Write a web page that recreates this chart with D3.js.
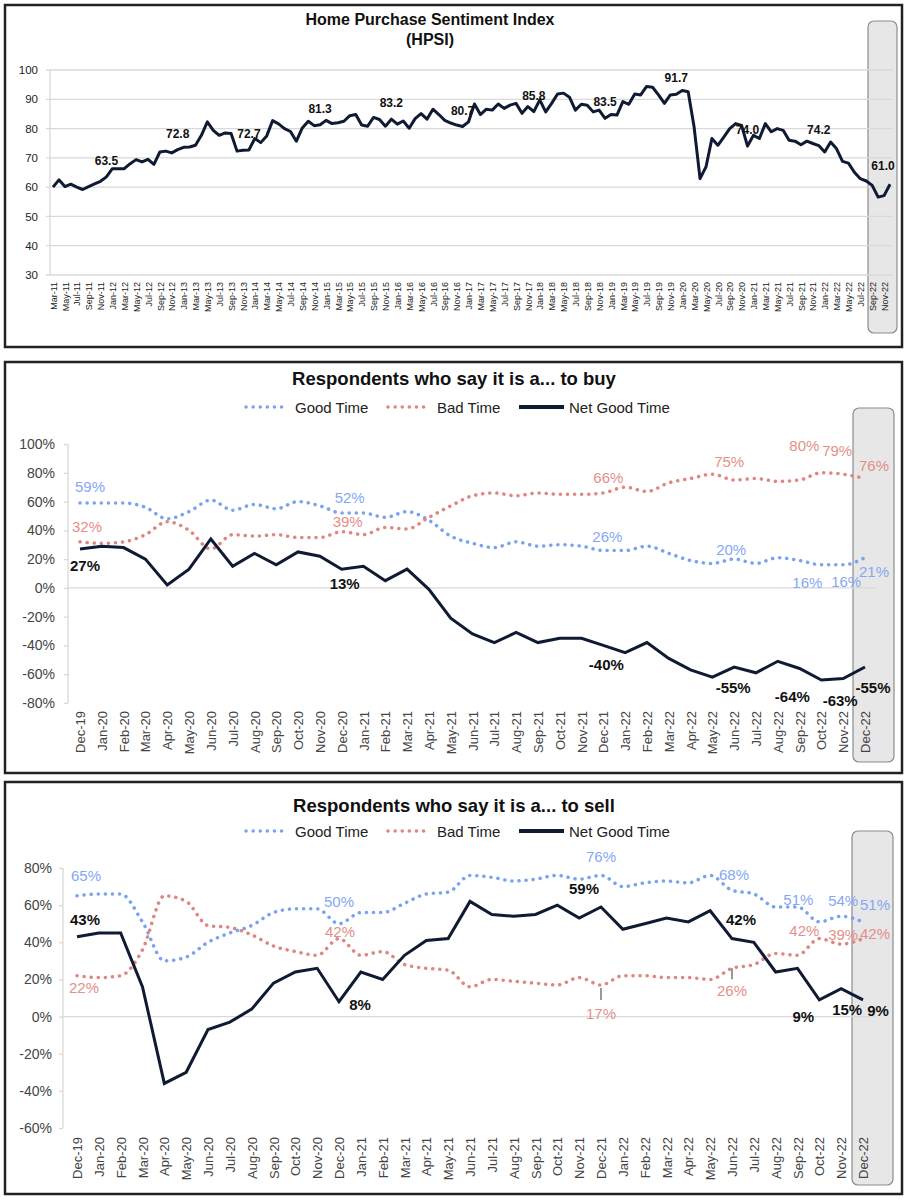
<!DOCTYPE html>
<html>
<head>
<meta charset="utf-8">
<script src="https://cdn.jsdelivr.net/npm/d3@7"></script>
<style>
  body { margin: 0; background: #fff; }
  svg { font-family: "Liberation Sans", Arial, sans-serif; }
</style>
</head>
<body>
<svg id="chart" width="909" height="1200"></svg>
<script>
// ---- data ----
// HPSI, monthly from Mar-11 to Dec-22
var hpsiStart = "2011-03-01";
var hpsiValues = [
  60.0, 62.5, 60.2, 61.0, 60.0, 59.2, 60.2, 61.1, 62.0, 63.5,
  66.3, 66.3, 66.3, 68.0, 69.4, 68.6, 69.5, 67.8, 72.0, 72.3,
  71.7, 72.8, 73.6, 73.7, 74.3, 77.7, 82.3, 79.4, 77.7, 78.5,
  78.3, 72.3, 72.6, 72.7, 76.6, 75.2, 77.5, 82.7, 81.6, 80.0,
  79.0, 75.7, 80.2, 82.5, 81.0, 81.3, 82.8, 81.7, 82.0, 82.5,
  84.4, 84.8, 81.2, 80.8, 83.8, 83.1, 80.8, 83.2, 81.5, 82.6,
  80.1, 83.4, 85.1, 83.2, 86.6, 84.8, 82.8, 81.9, 81.2, 80.7,
  82.3, 88.4, 84.8, 86.6, 86.3, 88.4, 86.9, 88.0, 88.6, 85.2,
  87.5, 85.8, 89.8, 85.7, 88.6, 91.8, 92.1, 90.7, 86.3, 88.3,
  88.0, 85.7, 86.3, 83.5, 84.8, 84.6, 89.2, 88.3, 91.8, 91.5,
  94.4, 94.1, 91.5, 88.6, 91.5, 91.7, 93.0, 92.6, 80.5, 62.9,
  66.9, 76.6, 74.3, 77.1, 80.0, 81.7, 81.1, 74.0, 77.7, 76.6,
  81.7, 78.9, 80.0, 79.4, 76.0, 75.7, 74.5, 75.7, 74.9, 74.2,
  72.0, 75.4, 73.1, 68.8, 68.2, 65.1, 62.9, 62.1, 60.6, 56.6,
  57.1, 61.0
];
var hpsiLabelMonths = ["Dec-11", "Dec-12", "Dec-13", "Dec-14", "Dec-15", "Dec-16",
  "Dec-17", "Dec-18", "Dec-19", "Dec-20", "Dec-21", "Dec-22"];
var hpsiTicks = [100, 90, 80, 70, 60, 50, 40, 30];

var surveyMonths = [
  "Dec-19", "Jan-20", "Feb-20", "Mar-20", "Apr-20", "May-20", "Jun-20", "Jul-20",
  "Aug-20", "Sep-20", "Oct-20", "Nov-20", "Dec-20", "Jan-21", "Feb-21", "Mar-21",
  "Apr-21", "May-21", "Jun-21", "Jul-21", "Aug-21", "Sep-21", "Oct-21", "Nov-21",
  "Dec-21", "Jan-22", "Feb-22", "Mar-22", "Apr-22", "May-22", "Jun-22", "Jul-22",
  "Aug-22", "Sep-22", "Oct-22", "Nov-22", "Dec-22"
];

var buyGood = [59, 59, 59, 56, 48, 53, 61, 54, 58, 55, 60, 57, 52, 52, 49, 53, 47, 36, 31,
  28, 32, 29, 30, 29, 26, 26, 29, 24, 19, 17, 20, 17, 21, 19, 16, 16, 21];
var buyBad = [32, 31, 32, 37, 46, 40, 27, 37, 36, 37, 35, 35, 39, 37, 42, 41, 49, 57, 64,
  66, 64, 66, 65, 65, 66, 70, 67, 73, 76, 79, 75, 76, 74, 75, 80, 79, 76];
var buyNet = [27, 29, 28, 20, 2, 13, 34, 15, 24, 16, 25, 22, 13, 15, 5, 13, -1, -21, -32,
  -38, -31, -38, -35, -35, -40, -45, -38, -49, -57, -62, -55, -59, -51, -56, -64, -63, -55];
var buyTicks = [100, 80, 60, 40, 20, 0, -20, -40, -60, -80];

var sellGood = [65, 66, 66, 51, 30, 32, 40, 45, 49, 56, 58, 58, 50, 56, 56, 61, 66, 67, 76,
  75, 73, 74, 76, 74, 76, 70, 72, 73, 72, 76, 68, 66, 59, 59, 51, 54, 51];
var sellBad = [22, 21, 22, 36, 65, 62, 49, 48, 44, 38, 35, 33, 42, 33, 35, 28, 26, 25, 16,
  20, 19, 18, 17, 21, 17, 22, 22, 21, 21, 20, 26, 28, 34, 33, 42, 39, 42];
var sellNet = [43, 45, 45, 16, -36, -30, -7, -3, 4, 18, 24, 26, 8, 24, 20, 33, 41, 42, 62,
  55, 54, 55, 60, 53, 59, 47, 50, 53, 51, 57, 42, 40, 24, 26, 9, 15, 9];
var sellTicks = [80, 60, 40, 20, 0, -20, -40, -60];

var seriesNames = ["Good Time", "Bad Time", "Net Good Time"];

// ---- styles ----
var NAVY = "#0f1a33", BLUE = "#78a2f2", RED = "#e0857f";
var BLUE_TXT = "#85a8f4", RED_TXT = "#e38f8a";
var GRID = "#d9d9d9";

var svg = d3.select("#chart");
var fmtMonth = d3.timeFormat("%b-%y");

function panelBox(x0, y0, x1, y1) {
  svg.append("rect")
    .attr("x", x0).attr("y", y0)
    .attr("width", x1 - x0).attr("height", y1 - y0)
    .attr("fill", "#fff")
    .attr("stroke", "#222").attr("stroke-width", 2.5);
}

function highlight(x0, y0, x1, y1) {
  svg.append("rect")
    .attr("x", x0).attr("y", y0)
    .attr("width", x1 - x0).attr("height", y1 - y0)
    .attr("rx", 6)
    .attr("fill", "#e7e7e7")
    .attr("stroke", "#8c8c8c").attr("stroke-width", 1.2);
}

// ================= Panel 1: HPSI =================
panelBox(5, 5, 902, 347);
highlight(868, 21, 897, 333);

var start = new Date(hpsiStart + "T00:00:00");
var hpsiMonths = hpsiValues.map(function (d, i) { return fmtMonth(d3.timeMonth.offset(start, i)); });

var x1 = d3.scalePoint().domain(hpsiMonths).range([53, 890]);
var y1 = d3.scaleLinear().domain([30, 100]).range([275, 70]);

var g1 = svg.append("g");

g1.selectAll("line.grid")
  .data(hpsiTicks)
  .enter().append("line")
  .attr("x1", 46).attr("x2", 893)
  .attr("y1", function (d) { return y1(d); })
  .attr("y2", function (d) { return y1(d); })
  .attr("stroke", GRID).attr("stroke-width", 1.3);

g1.append("line")
  .attr("x1", 50).attr("x2", 50)
  .attr("y1", y1(100)).attr("y2", y1(30))
  .attr("stroke", GRID).attr("stroke-width", 1.3);

var yAxis1 = g1.append("g")
  .attr("transform", "translate(40,0)")
  .call(d3.axisLeft(y1).tickValues(hpsiTicks).tickSize(0).tickPadding(2));
yAxis1.select(".domain").remove();
yAxis1.selectAll("text")
  .attr("font-size", 11.5).attr("fill", "#222")
  .attr("font-family", "Liberation Sans, Arial, sans-serif");

var xAxis1 = g1.append("g")
  .attr("transform", "translate(0," + y1(30) + ")")
  .call(d3.axisBottom(x1)
    .tickValues(hpsiMonths.filter(function (d, i) { return i % 2 === 0; }))
    .tickSize(0));
xAxis1.select(".domain").remove();
xAxis1.selectAll("text")
  .attr("font-size", 9).attr("fill", "#222")
  .attr("font-family", "Liberation Sans, Arial, sans-serif")
  .attr("text-anchor", "end")
  .attr("dy", "0.35em")
  .attr("transform", "translate(0,7) rotate(-90)")
  .attr("x", 0).attr("y", 0);

var line1 = d3.line()
  .x(function (d, i) { return x1(hpsiMonths[i]); })
  .y(function (d) { return y1(d); });

g1.append("path")
  .datum(hpsiValues)
  .attr("d", line1)
  .attr("fill", "none")
  .attr("stroke", NAVY).attr("stroke-width", 3)
  .attr("stroke-linejoin", "round");

g1.selectAll("text.hlabel")
  .data(hpsiLabelMonths)
  .enter().append("text")
  .attr("x", function (m) { return x1(m) + (m === "Dec-22" ? -7 : 0); })
  .attr("y", function (m) { return y1(hpsiValues[hpsiMonths.indexOf(m)]) - (m === "Dec-22" ? 18 : 16); })
  .attr("text-anchor", "middle")
  .attr("dominant-baseline", "central")
  .attr("font-size", 12).attr("font-weight", "bold").attr("fill", "#111")
  .text(function (m) { return hpsiValues[hpsiMonths.indexOf(m)].toFixed(1); });

svg.append("text")
  .attr("x", 430).attr("y", 25)
  .attr("text-anchor", "middle")
  .attr("font-size", 16).attr("font-weight", "bold").attr("fill", "#111")
  .text("Home Purchase Sentiment Index");
svg.append("text")
  .attr("x", 430).attr("y", 45)
  .attr("text-anchor", "middle")
  .attr("font-size", 16).attr("font-weight", "bold").attr("fill", "#111")
  .text("(HPSI)");

// ================= Panels 2 & 3 =================
function surveyPanel(cfg) {
  panelBox(5, cfg.top, 902, cfg.bottom);
  highlight(cfg.hl[0], cfg.hl[1], cfg.hl[2], cfg.hl[3]);

  var x = d3.scalePoint().domain(surveyMonths).range(cfg.xRange);
  var y = d3.scaleLinear().domain(cfg.yDomain).range(cfg.yRange);
  var g = svg.append("g");

  // title
  g.append("text")
    .attr("x", 454).attr("y", cfg.titleY)
    .attr("text-anchor", "middle")
    .attr("font-size", 18.5).attr("font-weight", "bold").attr("fill", "#111")
    .text(cfg.title);

  // legend
  var ly = cfg.legendY;
  var leg = [
    { x0: 246, x1: 287, tx: 295, color: BLUE, dotted: true },
    { x0: 388, x1: 429, tx: 437, color: RED, dotted: true },
    { x0: 519, x1: 564, tx: 569, color: NAVY, dotted: false }
  ];
  leg.forEach(function (l, i) {
    var ln = g.append("line")
      .attr("x1", l.x0).attr("x2", l.x1)
      .attr("y1", ly).attr("y2", ly)
      .attr("stroke", l.color)
      .attr("stroke-linecap", "round");
    if (l.dotted) ln.attr("stroke-width", 3.5).attr("stroke-dasharray", "0.1 7");
    else ln.attr("stroke-width", 4).attr("stroke-linecap", "butt");
    g.append("text")
      .attr("x", l.tx).attr("y", ly)
      .attr("dominant-baseline", "central")
      .attr("font-size", 15).attr("fill", "#222")
      .text(seriesNames[i]);
  });

  // axes
  g.append("line")
    .attr("x1", cfg.axisX).attr("x2", cfg.zeroEnd)
    .attr("y1", y(0)).attr("y2", y(0))
    .attr("stroke", GRID).attr("stroke-width", 1.3);
  g.append("line")
    .attr("x1", cfg.axisX).attr("x2", cfg.axisX)
    .attr("y1", y(cfg.yDomain[1])).attr("y2", y(cfg.yDomain[0]))
    .attr("stroke", GRID).attr("stroke-width", 1.3);

  var ya = g.append("g")
    .attr("transform", "translate(" + cfg.axisX + ",0)")
    .call(d3.axisLeft(y).tickValues(cfg.ticks).tickSize(4).tickPadding(cfg.axisX - cfg.labelRight - 4)
      .tickFormat(function (d) { return d + "%"; }));
  ya.select(".domain").remove();
  ya.selectAll("line").attr("stroke", GRID).attr("stroke-width", 1.3);
  ya.selectAll("text")
    .attr("font-size", 14).attr("fill", "#444")
    .attr("font-family", "Liberation Sans, Arial, sans-serif");

  var xa = g.append("g")
    .attr("transform", "translate(0," + y(cfg.yDomain[0]) + ")")
    .call(d3.axisBottom(x).tickSize(0));
  xa.select(".domain").remove();
  xa.selectAll("text")
    .attr("font-size", 13).attr("fill", "#444")
    .attr("font-family", "Liberation Sans, Arial, sans-serif")
    .attr("text-anchor", "end")
    .attr("dy", "0.35em")
    .attr("transform", "translate(0," + cfg.tickGap + ") rotate(-90)")
    .attr("x", 0).attr("y", 0);

  // series
  var series = { good: cfg.good, bad: cfg.bad, net: cfg.net };
  var smooth = d3.line()
    .x(function (d, i) { return x(surveyMonths[i]); })
    .y(function (d) { return y(d); })
    .curve(d3.curveMonotoneX);
  var straight = d3.line()
    .x(function (d, i) { return x(surveyMonths[i]); })
    .y(function (d) { return y(d); });

  g.append("path").datum(cfg.good).attr("d", smooth)
    .attr("fill", "none").attr("stroke", BLUE).attr("stroke-width", 3.5)
    .attr("stroke-linecap", "round").attr("stroke-dasharray", "0.1 7");
  g.append("path").datum(cfg.bad).attr("d", smooth)
    .attr("fill", "none").attr("stroke", RED).attr("stroke-width", 3.5)
    .attr("stroke-linecap", "round").attr("stroke-dasharray", "0.1 7");
  g.append("path").datum(cfg.net).attr("d", straight)
    .attr("fill", "none").attr("stroke", NAVY).attr("stroke-width", 3)
    .attr("stroke-linejoin", "miter");

  // leader lines
  (cfg.leaders || []).forEach(function (l) {
    var v = series[l.s][surveyMonths.indexOf(l.m)];
    g.append("line")
      .attr("x1", x(l.m)).attr("x2", x(l.m))
      .attr("y1", y(v) + l.a).attr("y2", y(v) + l.b)
      .attr("stroke", "#555").attr("stroke-width", 1.2);
  });

  // data labels
  var colors = { good: BLUE_TXT, bad: RED_TXT, net: "#111" };
  cfg.labels.forEach(function (l) {
    var v = series[l.s][surveyMonths.indexOf(l.m)];
    g.append("text")
      .attr("x", x(l.m) + l.dx)
      .attr("y", y(v) + l.dy)
      .attr("text-anchor", "middle")
      .attr("dominant-baseline", "central")
      .attr("font-size", 15)
      .attr("font-weight", l.s === "net" ? "bold" : "normal")
      .attr("fill", colors[l.s])
      .text(v + "%");
  });
}

surveyPanel({
  top: 362, bottom: 773,
  hl: [853, 408, 894, 762],
  title: "Respondents who say it is a... to buy",
  titleY: 385, legendY: 407,
  xRange: [80, 865], yDomain: [-80, 100], yRange: [703, 444],
  ticks: buyTicks, axisX: 68, labelRight: 55, zeroEnd: 875, tickGap: 8,
  good: buyGood, bad: buyBad, net: buyNet,
  labels: [
    { s: "good", m: "Dec-19", dx: 10, dy: -16 },
    { s: "bad", m: "Dec-19", dx: 7, dy: -15 },
    { s: "net", m: "Dec-19", dx: 5, dy: 16 },
    { s: "good", m: "Dec-20", dx: 8, dy: -16 },
    { s: "bad", m: "Dec-20", dx: 6, dy: -10 },
    { s: "net", m: "Dec-20", dx: 3, dy: 14 },
    { s: "bad", m: "Dec-21", dx: 5, dy: -15 },
    { s: "good", m: "Dec-21", dx: 4, dy: -14 },
    { s: "net", m: "Dec-21", dx: 3, dy: 19 },
    { s: "bad", m: "Jun-22", dx: -5, dy: -18 },
    { s: "good", m: "Jun-22", dx: -3, dy: -10 },
    { s: "net", m: "Jun-22", dx: -1, dy: 20 },
    { s: "bad", m: "Oct-22", dx: -17, dy: -27 },
    { s: "bad", m: "Nov-22", dx: -6, dy: -24 },
    { s: "bad", m: "Dec-22", dx: 9, dy: -13 },
    { s: "good", m: "Oct-22", dx: -14, dy: 18 },
    { s: "good", m: "Nov-22", dx: 3, dy: 17 },
    { s: "good", m: "Dec-22", dx: 9, dy: 14 },
    { s: "net", m: "Oct-22", dx: -29, dy: 17 },
    { s: "net", m: "Nov-22", dx: -3, dy: 22 },
    { s: "net", m: "Dec-22", dx: 8, dy: 20 }
  ]
});

surveyPanel({
  top: 782, bottom: 1194,
  hl: [852, 831, 893, 1185],
  title: "Respondents who say it is a... to sell",
  titleY: 812, legendY: 831,
  xRange: [77, 863], yDomain: [-60, 80], yRange: [1128, 868],
  ticks: sellTicks, axisX: 63, labelRight: 52, zeroEnd: 875, tickGap: 9,
  good: sellGood, bad: sellBad, net: sellNet,
  leaders: [
    { s: "bad", m: "Dec-21", a: 3, b: 15 },
    { s: "bad", m: "Jun-22", a: 0, b: 11 }
  ],
  labels: [
    { s: "good", m: "Dec-19", dx: 9, dy: -20 },
    { s: "net", m: "Dec-19", dx: 8, dy: -17 },
    { s: "bad", m: "Dec-19", dx: 7, dy: 12 },
    { s: "good", m: "Dec-20", dx: 0, dy: -22 },
    { s: "bad", m: "Dec-20", dx: 1, dy: -7 },
    { s: "net", m: "Dec-20", dx: 21, dy: 3 },
    { s: "good", m: "Dec-21", dx: 0, dy: -19 },
    { s: "net", m: "Dec-21", dx: -17, dy: -19 },
    { s: "bad", m: "Dec-21", dx: 0, dy: 28 },
    { s: "good", m: "Jun-22", dx: 2, dy: -16 },
    { s: "net", m: "Jun-22", dx: 9, dy: -19 },
    { s: "bad", m: "Jun-22", dx: 0, dy: 22 },
    { s: "good", m: "Oct-22", dx: -21, dy: -22 },
    { s: "bad", m: "Oct-22", dx: -15, dy: -8 },
    { s: "net", m: "Oct-22", dx: -16, dy: 17 },
    { s: "good", m: "Nov-22", dx: 2, dy: -16 },
    { s: "bad", m: "Nov-22", dx: 2, dy: -10 },
    { s: "net", m: "Nov-22", dx: 6, dy: 21 },
    { s: "good", m: "Dec-22", dx: 12, dy: -17 },
    { s: "bad", m: "Dec-22", dx: 12, dy: -5 },
    { s: "net", m: "Dec-22", dx: 15, dy: 11 }
  ]
});
</script>
</body>
</html>
